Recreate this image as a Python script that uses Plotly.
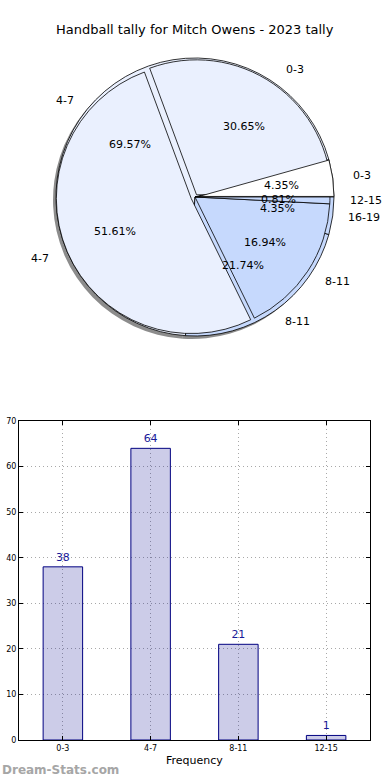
import math
import plotly.graph_objects as go

# ---- data ----
title_text = "Handball tally for Mitch Owens - 2023 tally"
x_title = "Frequency"
a_labels = ["0-3", "4-7", "8-11", "12-15"]
a_values = [38, 64, 21, 1]
b_labels = ["0-3", "4-7", "8-11", "16-19"]
b_values = [1, 16, 5, 1]
y_ticks = [0, 10, 20, 30, 40, 50, 60, 70]

# ---- style / layout constants ----
W, H = 390, 780
CX, CY, R = 195, 197, 139          # pie centre / radius in px
LIGHT = "#eaf0fe"
BLUE = "#c6d9fd"
FONT = "DejaVu Sans"


def dom(cx, cy, r):
    return dict(x=[(cx - r) / W, (cx + r) / W], y=[1 - (cy + r) / H, 1 - (cy - r) / H])


def rot(values):
    # plotly (counterclockwise) puts the first slice clockwise of the rotation line;
    # choose rotation so that the first slice starts at 3 o'clock going counterclockwise
    return 90 - 360 * values[0] / sum(values)


common = dict(sort=False, direction="counterclockwise",
              textinfo="none", hoverinfo="skip", showlegend=False)

fig = go.Figure()
# shadow
fig.add_trace(go.Pie(values=b_values, labels=b_labels, domain=dom(CX - 3, CY + 3, R),
                     rotation=rot(b_values),
                     marker=dict(colors=["rgba(0,0,0,0.45)"] * 4, line=dict(width=0)), **common))
# back pie (second tally)
fig.add_trace(go.Pie(values=b_values, labels=b_labels, domain=dom(CX, CY, R),
                     rotation=rot(b_values),
                     marker=dict(colors=["#ffffff", LIGHT, BLUE, BLUE],
                                 line=dict(color="black", width=0.8)), **common))
# front pie (main tally), exploded
a_pull = [0.02, 0.03, 0, 0]
fig.add_trace(go.Pie(values=a_values, labels=a_labels, domain=dom(CX, CY, R), pull=a_pull,
                     rotation=rot(a_values),
                     marker=dict(colors=[LIGHT, LIGHT, BLUE, BLUE],
                                 line=dict(color="black", width=0.8)), **common))
# white 0-3 wedge of back pie on top
b_pull = [0.03, 0, 0, 0]
fig.add_trace(go.Pie(values=b_values, labels=b_labels, domain=dom(CX, CY, R), pull=b_pull,
                     rotation=rot(b_values),
                     marker=dict(colors=["#ffffff", "rgba(0,0,0,0)", "rgba(0,0,0,0)", "rgba(0,0,0,0)"],
                                 line=dict(color="black", width=[0.8, 0, 0, 0])), **common))

annotations = []


def pie_texts(labels, values, pulls):
    tot = sum(values)
    cum = 0
    for lab, v, p in zip(labels, values, pulls):
        mid = math.radians(360 * (cum + v / 2) / tot)
        cum += v
        c, s = math.cos(mid), math.sin(mid)
        rp = (0.6 + p) * R
        annotations.append(dict(x=(CX + rp * c) / W, y=1 - (CY - rp * s) / H,
                                xref="paper", yref="paper", showarrow=False,
                                text=f"{100 * v / tot:.2f}%", xanchor="center", yanchor="middle",
                                font=dict(family=FONT, size=11, color="black")))
        rl = (1.1 + p) * R
        annotations.append(dict(x=(CX + rl * c) / W, y=1 - (CY - rl * s) / H,
                                xref="paper", yref="paper", showarrow=False, text=lab,
                                xanchor="left" if c > 0 else "right", yanchor="middle",
                                font=dict(family=FONT, size=11, color="black")))


pie_texts(a_labels, a_values, a_pull)
pie_texts(b_labels, b_values, b_pull)

# ---- bar chart ----
fig.add_trace(go.Bar(x=a_labels, y=a_values, xaxis="x", yaxis="y", width=0.45,
                     marker=dict(color="rgba(0,0,139,0.2)", line=dict(color="#000080", width=1)),
                     text=[str(v) for v in a_values], textposition="outside", cliponaxis=False,
                     textfont=dict(family=FONT, size=11, color="#1a1a99"),
                     hoverinfo="skip", showlegend=False))

axis_common = dict(showline=True, linecolor="black", linewidth=1, mirror="ticks",
                   ticks="inside", ticklen=4, tickcolor="black", automargin=False,
                   showgrid=True, gridcolor="#a8a8a8", gridwidth=1, griddash="1px,3px",
                   zeroline=False, tickfont=dict(family=FONT, size=8, color="black"))

annotations.append(dict(x=0.5, y=1 - 30 / H, xref="paper", yref="paper", showarrow=False,
                        text=title_text, xanchor="center", yanchor="middle",
                        font=dict(family=FONT, size=13, color="black")))
annotations.append(dict(x=(19 + 370) / 2 / W, y=1 - 760 / H, xref="paper", yref="paper",
                        showarrow=False, text=x_title, xanchor="center", yanchor="middle",
                        font=dict(family=FONT, size=11, color="black")))
annotations.append(dict(x=0.0, y=1 - 770 / H, xref="paper", yref="paper", showarrow=False,
                        text="<b>Dream-Stats.com</b>", xanchor="left", yanchor="middle",
                        font=dict(family=FONT, size=12, color="#a6a6a6")))

fig.update_layout(
    width=W, height=H, margin=dict(l=0, r=0, t=0, b=0),
    paper_bgcolor="white", plot_bgcolor="white",
    xaxis=dict(domain=[19 / W, 370 / W], anchor="y", type="category", range=[-0.5, 3.5],
               **axis_common),
    yaxis=dict(domain=[1 - 740 / H, 1 - 421 / H], anchor="x", range=[0, 70],
               tickvals=y_ticks, **axis_common),
    annotations=annotations,
    font=dict(family=FONT),
)

fig.write_html("out.html", config={"displayModeBar": False},
               post_script="document.body.style.margin='0';")
